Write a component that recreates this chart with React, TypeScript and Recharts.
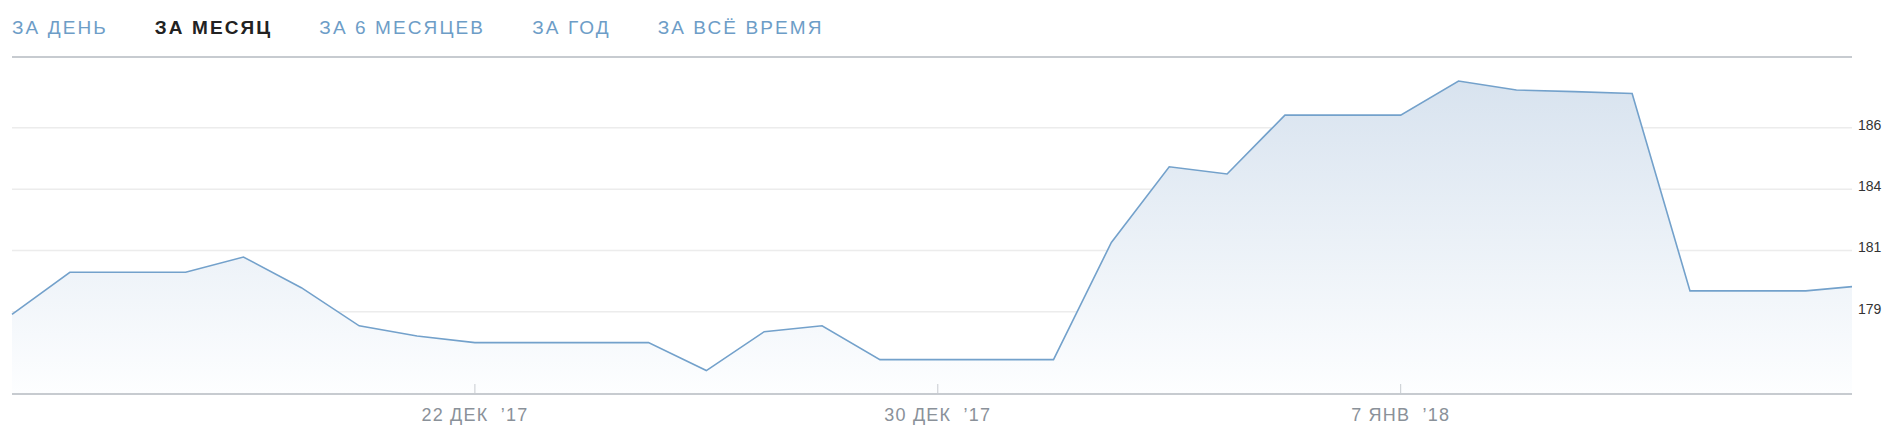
import { Area, AreaChart, CartesianGrid, ReferenceLine, XAxis, YAxis } from "recharts";

const tabs = ["ЗА ДЕНЬ", "ЗА МЕСЯЦ", "ЗА 6 МЕСЯЦЕВ", "ЗА ГОД", "ЗА ВСЁ ВРЕМЯ"];
const activeTab = 1;

// day 0 = 14 Dec 2017, last point is the current (intraday) price
const days = [
  0, 1, 2, 3, 4, 5, 6, 7, 8, 9, 10, 11, 12, 13, 14, 15, 16, 17, 18, 19, 20, 21, 22, 23, 24, 25,
  26, 27, 28, 29, 30, 31, 31.8,
];
const prices = [
  178.8, 180.38, 180.38, 180.38, 180.95, 179.8, 178.37, 177.99, 177.74, 177.74, 177.74, 177.74,
  176.69, 178.15, 178.37, 177.1, 177.1, 177.1, 177.1, 181.5, 184.34, 184.07, 186.28, 186.28,
  186.28, 187.56, 187.22, 187.16, 187.09, 179.68, 179.68, 179.68, 179.84,
];

const xTicks = [8, 16, 24];
const xTickLabels = ["22 ДЕК  ’17", "30 ДЕК  ’17", "7 ЯНВ  ’18"];
const yTicks = [178.9, 181.2, 183.5, 185.8];
const yDomain: [number, number] = [175.81, 188.46];
const xDomain: [number, number] = [0, 31.8];

const data = days.map((d, i) => ({ day: d, price: prices[i] }));

const LINE = "#73a1cb";
const AXIS = "#c7cbd0";

function DateTick(props: any) {
  const { x, y, payload } = props;
  const idx = xTicks.indexOf(payload.value);
  return (
    <g>
      <line x1={x} x2={x} y1={y - 10} y2={y} stroke={AXIS} strokeWidth={1} />
      <text
        x={x}
        y={y + 27}
        textAnchor="middle"
        fill="#8a9199"
        fontSize={18}
        letterSpacing={1.2}
        style={{ whiteSpace: "pre" }}
      >
        {idx >= 0 ? xTickLabels[idx] : ""}
      </text>
    </g>
  );
}

export default function App() {
  return (
    <div
      style={{
        position: "absolute",
        left: 0,
        top: 0,
        width: 1900,
        height: 430,
        background: "#fff",
        fontFamily: "'Liberation Sans', Arial, sans-serif",
      }}
    >
      <div
        style={{
          position: "absolute",
          left: 12,
          top: 17,
          display: "flex",
          gap: 47,
          fontSize: 19,
          letterSpacing: 2.1,
          whiteSpace: "nowrap",
        }}
      >
        {tabs.map((t, i) => (
          <span
            key={t}
            style={{
              color: i === activeTab ? "#222" : "#6d9dc7",
              fontWeight: i === activeTab ? 700 : 400,
            }}
          >
            {t}
          </span>
        ))}
      </div>
      <div style={{ position: "absolute", left: 0, top: 0 }}>
        <AreaChart
          width={1900}
          height={430}
          data={data}
          margin={{ top: 57, right: 0, bottom: 0, left: 12 }}
        >
          <defs>
            <linearGradient id="priceFill" x1="0" y1="0" x2="0" y2="1">
              <stop offset="0%" stopColor="#d8e3ef" />
              <stop offset="100%" stopColor="#fdfeff" />
            </linearGradient>
          </defs>
          <CartesianGrid horizontal vertical={false} stroke="#ececec" strokeWidth={1.5} />
          <XAxis
            dataKey="day"
            type="number"
            domain={xDomain}
            ticks={xTicks}
            height={36}
            tickSize={0}
            tickMargin={0}
            tickLine={false}
            axisLine={{ stroke: AXIS, strokeWidth: 2 }}
            tick={<DateTick />}
            interval={0}
          />
          <YAxis
            orientation="right"
            type="number"
            domain={yDomain}
            ticks={yTicks}
            width={48}
            tickSize={0}
            tickMargin={6}
            axisLine={false}
            tickLine={false}
            tick={{ fill: "#333", fontSize: 14, dy: -3 }}
            tickFormatter={(v) => String(Math.round(v as number))}
          />
          <ReferenceLine y={yDomain[1]} stroke={AXIS} strokeWidth={2} />
          <Area
            type="linear"
            dataKey="price"
            stroke={LINE}
            strokeWidth={1.6}
            fill="url(#priceFill)"
            fillOpacity={1}
            dot={false}
            activeDot={false}
            isAnimationActive={false}
          />
        </AreaChart>
      </div>
    </div>
  );
}
